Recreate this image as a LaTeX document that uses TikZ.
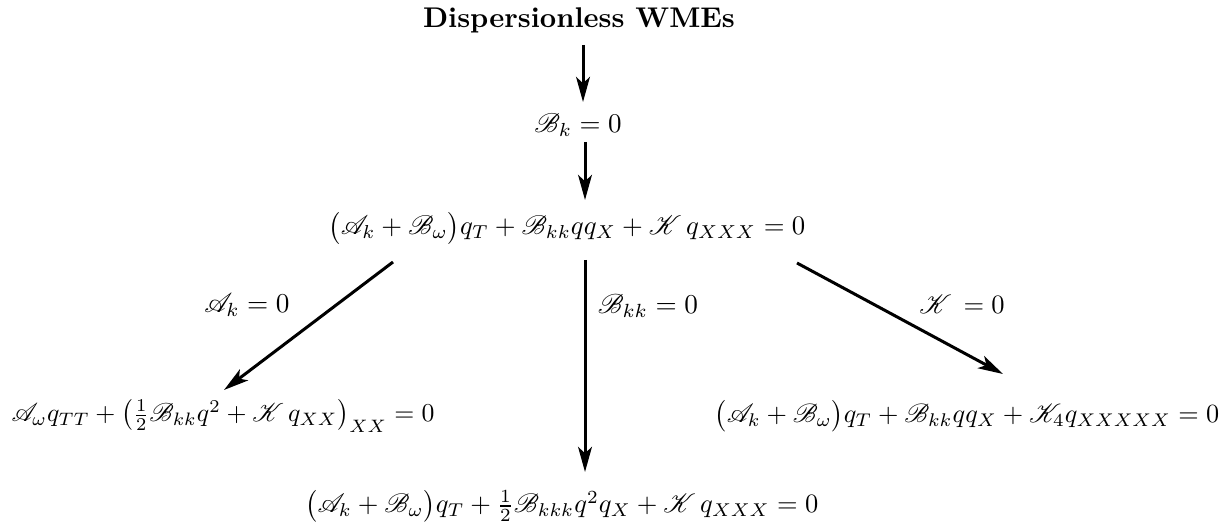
\documentclass[tikz,border=0pt]{standalone}
\usepackage{amsmath}
\usepackage{graphicx}
\usepackage{mathrsfs}
\usetikzlibrary{arrows.meta}
\tikzset{
  arr/.style={line width=1.2pt,-{Stealth[length=10pt,width=5.5pt,inset=2.5pt]}},
  eq/.style={inner sep=0pt,anchor=center},
}
\newcommand{\mysc}[2]{\scalebox{#1}{#2}}
\begin{document}
\begin{tikzpicture}[x=0.4pt,y=-0.4pt]
\useasboundingbox (0,0) rectangle (1225,532);
\node[eq] (title) at (579,20) {\mysc{1.14}{\textbf{Dispersionless WMEs}}};
\node[eq] (bk) at (578,125) {\mysc{1.08}{$\mathscr{B}_k=0$}};
\node[eq] (mid) at (567,228) {\mysc{1.07}{$\bigl(\mathscr{A}_k+\mathscr{B}_\omega\bigr)q_T+\mathscr{B}_{kk}qq_X+\mathscr{K}\,q_{XXX}=0$}};
\node[eq] (left) at (223,416) {\mysc{1.03}{$\mathscr{A}_\omega q_{TT}+\bigl(\tfrac12\mathscr{B}_{kk}q^2+\mathscr{K}\,q_{XX}\bigr)_{XX}=0$}};
\node[eq] (right) at (967,416) {\mysc{1.05}{$\bigl(\mathscr{A}_k+\mathscr{B}_\omega\bigr)q_T+\mathscr{B}_{kk}qq_X+\mathscr{K}_4q_{XXXXX}=0$}};
\node[eq] (bottom) at (562,506) {\mysc{1.06}{$\bigl(\mathscr{A}_k+\mathscr{B}_\omega\bigr)q_T+\tfrac12\mathscr{B}_{kkk}q^2q_X+\mathscr{K}\,q_{XXX}=0$}};
\node[eq] (lA) at (247,305) {\mysc{1.09}{$\mathscr{A}_k=0$}};
\node[eq] (lB) at (648,306) {\mysc{1.09}{$\mathscr{B}_{kk}=0$}};
\node[eq] (lK) at (962,304) {\mysc{1.06}{$\mathscr{K}\,=0$}};
\coordinate (a1s) at (583,45);  \coordinate (a1e) at (583,102);
\coordinate (a2s) at (585,142); \coordinate (a2e) at (585,200);
\coordinate (ls) at (393,262);  \coordinate (le) at (224,390);
\coordinate (ms) at (585,260);  \coordinate (me) at (585,472);
\coordinate (rs) at (797,263);  \coordinate (re) at (1003,374);
\draw[arr] (a1s) -- (a1e);
\draw[arr] (a2s) -- (a2e);
\draw[arr] (ls) -- (le);
\draw[arr] (ms) -- (me);
\draw[arr] (rs) -- (re);
\end{tikzpicture}
\end{document}
